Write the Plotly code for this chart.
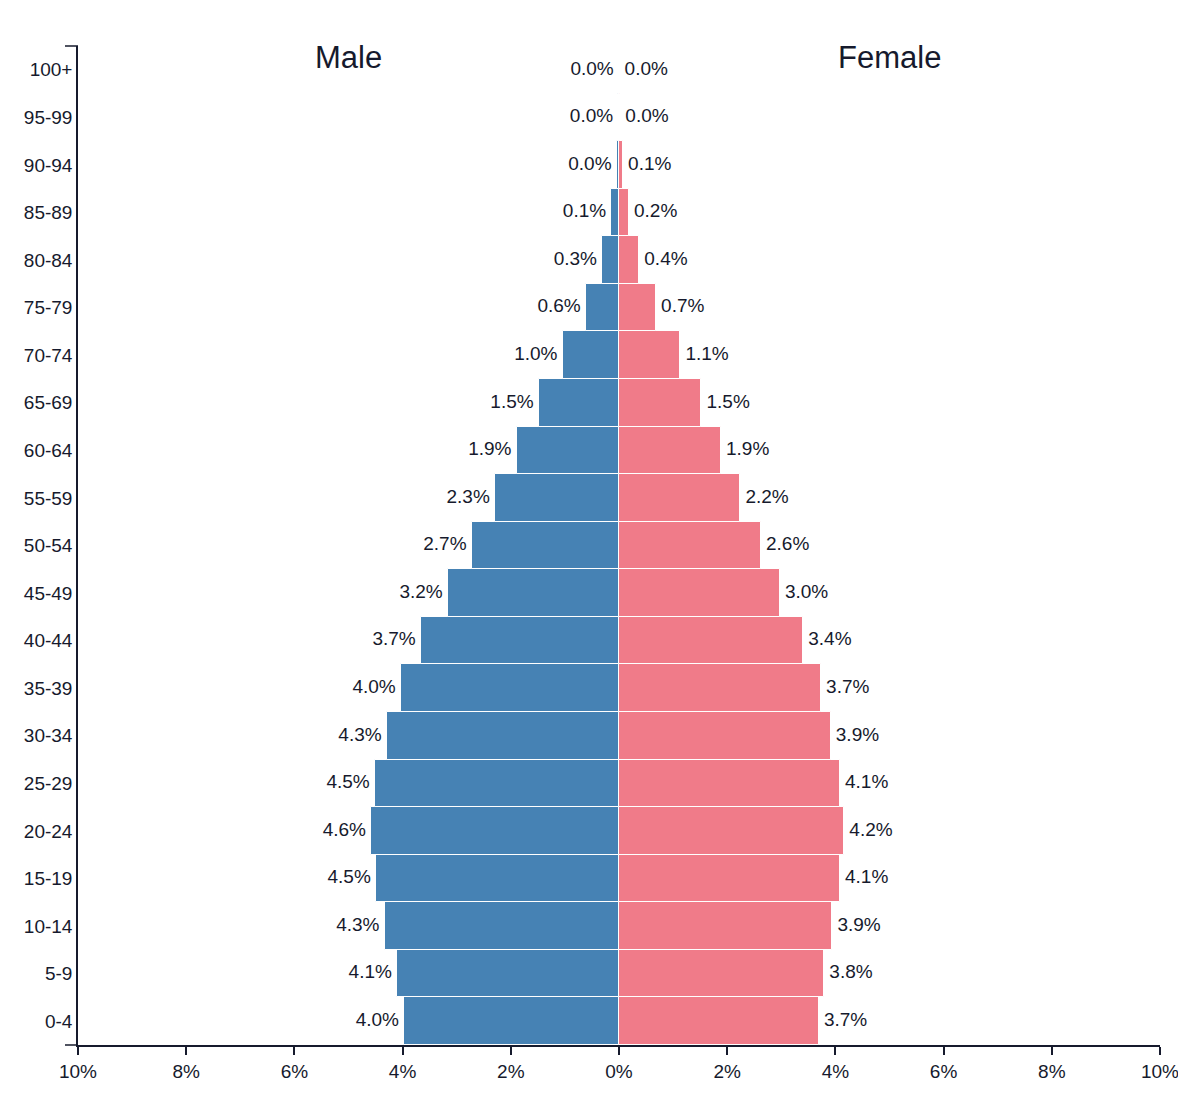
import plotly.graph_objs as go

# age groups from youngest to oldest (bottom to top)
age_groups = ["0-4", "5-9", "10-14", "15-19", "20-24", "25-29", "30-34",
              "35-39", "40-44", "45-49", "50-54", "55-59", "60-64", "65-69",
              "70-74", "75-79", "80-84", "85-89", "90-94", "95-99", "100+"]

# share of total population, in percent
male_pct = [3.97, 4.10, 4.33, 4.49, 4.58, 4.51, 4.29, 4.03, 3.66, 3.16, 2.72,
            2.29, 1.89, 1.48, 1.04, 0.61, 0.31, 0.14, 0.04, 0.01, 0.0]
female_pct = [3.69, 3.79, 3.94, 4.08, 4.16, 4.08, 3.91, 3.73, 3.40, 2.97, 2.62,
              2.24, 1.88, 1.52, 1.13, 0.68, 0.37, 0.18, 0.07, 0.02, 0.006]

x_ticks = [-10, -8, -6, -4, -2, 0, 2, 4, 6, 8, 10]

INK = "#161a2d"
FONT = "Liberation Sans, Arial, Helvetica, sans-serif"
PAD = "\u00a0"

fig = go.Figure()
fig.add_trace(go.Bar(
    y=age_groups,
    x=[-v for v in male_pct],
    orientation="h",
    name="Male",
    marker=dict(color="#4682b4", line=dict(color="white", width=1)),
    hoverinfo="skip",
))
fig.add_trace(go.Bar(
    y=age_groups,
    x=female_pct,
    orientation="h",
    name="Female",
    marker=dict(color="#f07b89", line=dict(color="white", width=1)),
    hoverinfo="skip",
))

# value labels just past the end of each bar
fig.add_trace(go.Scatter(
    y=age_groups,
    x=[-v for v in male_pct],
    mode="text",
    text=[f"{v:.1f}%{PAD}" for v in male_pct],
    textposition="middle left",
    textfont=dict(size=19, color=INK, family=FONT),
    cliponaxis=False,
    hoverinfo="skip",
))
fig.add_trace(go.Scatter(
    y=age_groups,
    x=female_pct,
    mode="text",
    text=[f"{PAD}{v:.1f}%" for v in female_pct],
    textposition="middle right",
    textfont=dict(size=19, color=INK, family=FONT),
    cliponaxis=False,
    hoverinfo="skip",
))

fig.update_layout(
    width=1186,
    height=1098,
    margin=dict(l=70, r=34, t=38, b=61),
    paper_bgcolor="white",
    plot_bgcolor="white",
    barmode="overlay",
    bargap=0,
    showlegend=False,
    font=dict(family=FONT, color=INK, size=19),
    xaxis=dict(
        range=[-10, 10],
        tickvals=x_ticks,
        ticktext=[f"{abs(t)}%" for t in x_ticks],
        showgrid=False,
        zeroline=False,
        showline=True,
        linecolor=INK,
        linewidth=1.5,
        ticks="outside",
        ticklen=8,
        tickwidth=1.5,
        tickcolor=INK,
        tickfont=dict(size=19, color=INK),
        fixedrange=True,
    ),
    yaxis=dict(
        categoryorder="array",
        categoryarray=age_groups,
        range=[-0.5, len(age_groups) - 0.5],
        showgrid=False,
        zeroline=False,
        showline=True,
        linecolor=INK,
        linewidth=1.5,
        ticks="",
        tickfont=dict(size=19, color=INK),
        fixedrange=True,
    ),
    annotations=[
        dict(text="Male", x=-5, y=0.988, xref="x", yref="paper",
             showarrow=False, font=dict(size=31, color=INK), yanchor="middle"),
        dict(text="Female", x=5, y=0.988, xref="x", yref="paper",
             showarrow=False, font=dict(size=31, color=INK), yanchor="middle"),
    ],
    shapes=[
        # outer ticks at both ends of the age axis
        dict(type="line", xref="paper", yref="paper", xsizemode="pixel",
             xanchor=0, x0=-13, x1=0, y0=1, y1=1,
             line=dict(color=INK, width=1.5)),
        dict(type="line", xref="paper", yref="paper", xsizemode="pixel",
             xanchor=0, x0=-13, x1=0, y0=0, y1=0,
             line=dict(color=INK, width=1.5)),
    ],
)

fig.write_html("out.html")
